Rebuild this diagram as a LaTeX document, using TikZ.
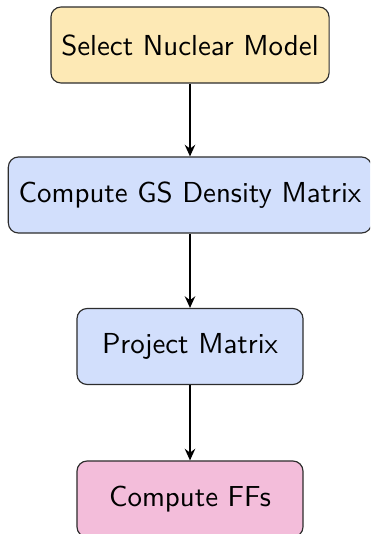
\documentclass[tikz,border=0pt]{standalone}
\usetikzlibrary{arrows.meta}
\definecolor{yfill}{RGB}{253,233,181}
\definecolor{bfill}{RGB}{210,223,252}
\definecolor{pfill}{RGB}{243,189,218}
\definecolor{bord}{RGB}{45,45,45}
\tikzset{
  box/.style={draw=bord, line width=0.4pt, rounded corners=3.5pt, minimum height=26.3pt,
    minimum width=78.2pt, inner xsep=3.6pt, font=\sffamily\fontsize{10}{12}\selectfont},
  conn/.style={draw=black, line width=0.7pt, -{Stealth[length=4pt,width=3.6pt]}}
}
\begin{document}
\begin{tikzpicture}[x=0.346pt,y=-0.346pt]
\useasboundingbox (0,0) rectangle (370,534);
\clip (0,0) rectangle (370,534);
\node[box, fill=yfill] (a) at (190,45) {Select Nuclear Model};
\node[box, fill=bfill] (b) at (190,195) {Compute GS Density Matrix};
\node[box, fill=bfill] (c) at (190,346.5) {Project Matrix};
\node[box, fill=pfill] (d) at (190,499) {Compute FFs};
\draw[conn] (a) -- (b);
\draw[conn] (b) -- (c);
\draw[conn] (c) -- (d);
\end{tikzpicture}
\end{document}
